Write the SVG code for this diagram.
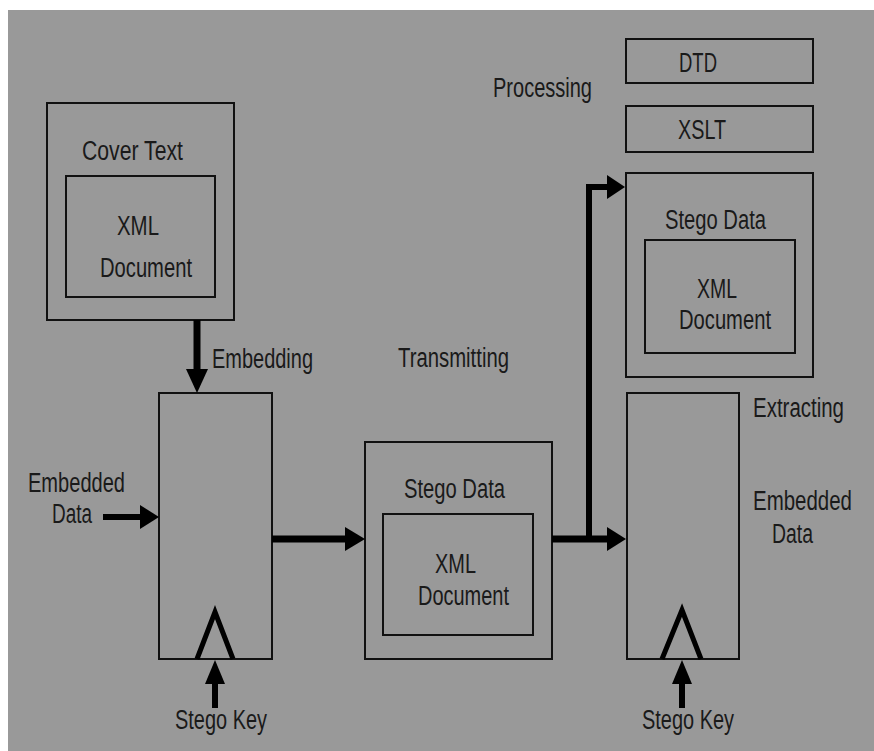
<svg xmlns="http://www.w3.org/2000/svg" width="874" height="751" viewBox="0 0 874 751">
<style>
.box{fill:none;stroke:#111;stroke-width:2}
.t{font-family:"Liberation Sans",Arial,sans-serif;font-size:27px;fill:#1a1a1a}
.sh{stroke:#000;fill:none}
.hd{fill:#000;stroke:none}
.key{fill:none;stroke:#000;stroke-width:5;stroke-linejoin:miter}
</style>
<rect x="0" y="0" width="874" height="751" fill="#ffffff"/>
<rect x="8" y="10" width="866" height="741" fill="#999999"/>

<g id="cover">
<rect class="box" x="47" y="103" width="187" height="217"/>
<rect class="box" x="66" y="176" width="149" height="121"/>
<text class="t" x="82" y="160" textLength="101" lengthAdjust="spacingAndGlyphs">Cover Text</text>
<text class="t" x="117" y="235" textLength="42" lengthAdjust="spacingAndGlyphs">XML</text>
<text class="t" x="100" y="277" textLength="92" lengthAdjust="spacingAndGlyphs">Document</text>
</g>

<g id="embed">
<rect class="box" x="159" y="393" width="113" height="266"/>
<polyline class="key" points="197,659 215,612 233,659"/>
</g>

<g id="stego-mid">
<rect class="box" x="365" y="442" width="187" height="217"/>
<rect class="box" x="383" y="514" width="150" height="121"/>
<text class="t" x="404" y="498" textLength="101" lengthAdjust="spacingAndGlyphs">Stego Data</text>
<text class="t" x="435" y="573" textLength="41" lengthAdjust="spacingAndGlyphs">XML</text>
<text class="t" x="418" y="605" textLength="91" lengthAdjust="spacingAndGlyphs">Document</text>
</g>

<g id="dtd">
<rect class="box" x="626" y="39" width="187" height="44"/>
<text class="t" x="679" y="72" textLength="38" lengthAdjust="spacingAndGlyphs">DTD</text>
</g>

<g id="xslt">
<rect class="box" x="626" y="106" width="187" height="46"/>
<text class="t" x="678" y="139" textLength="48" lengthAdjust="spacingAndGlyphs">XSLT</text>
</g>

<g id="stego-right">
<rect class="box" x="626" y="173" width="187" height="204"/>
<rect class="box" x="645" y="240" width="150" height="113"/>
<text class="t" x="665" y="229" textLength="101" lengthAdjust="spacingAndGlyphs">Stego Data</text>
<text class="t" x="697" y="298" textLength="40" lengthAdjust="spacingAndGlyphs">XML</text>
<text class="t" x="679" y="329" textLength="92" lengthAdjust="spacingAndGlyphs">Document</text>
</g>

<g id="extract">
<rect class="box" x="627" y="393" width="112" height="266"/>
<polyline class="key" points="662,659 682,610 701,659"/>
</g>

<g id="labels">
<text class="t" x="212" y="368" textLength="101" lengthAdjust="spacingAndGlyphs">Embedding</text>
<text class="t" x="28" y="492" textLength="97" lengthAdjust="spacingAndGlyphs">Embedded</text>
<text class="t" x="52" y="523" textLength="40" lengthAdjust="spacingAndGlyphs">Data</text>
<text class="t" x="175" y="729" textLength="92" lengthAdjust="spacingAndGlyphs">Stego Key</text>
<text class="t" x="398" y="367" textLength="111" lengthAdjust="spacingAndGlyphs">Transmitting</text>
<text class="t" x="493" y="97" textLength="99" lengthAdjust="spacingAndGlyphs">Processing</text>
<text class="t" x="753" y="417" textLength="91" lengthAdjust="spacingAndGlyphs">Extracting</text>
<text class="t" x="753" y="510" textLength="99" lengthAdjust="spacingAndGlyphs">Embedded</text>
<text class="t" x="772" y="543" textLength="41" lengthAdjust="spacingAndGlyphs">Data</text>
<text class="t" x="642" y="729" textLength="92" lengthAdjust="spacingAndGlyphs">Stego Key</text>
</g>

<g id="connectors">
<line class="sh" x1="197" y1="320" x2="197" y2="372" stroke-width="7"/>
<polygon class="hd" points="186,369 208,369 197,393"/>
<line class="sh" x1="103" y1="517" x2="142" y2="517" stroke-width="6"/>
<polygon class="hd" points="140,505 140,529 159,517"/>
<line class="sh" x1="272" y1="539" x2="347" y2="539" stroke-width="7"/>
<polygon class="hd" points="345,527 345,551 365,539"/>
<line class="sh" x1="552" y1="539" x2="609" y2="539" stroke-width="7"/>
<polygon class="hd" points="607,527 607,551 626,539"/>
<polyline class="sh" points="589,542 589,187 609,187" stroke-width="6"/>
<polygon class="hd" points="607,175 607,199 625,187"/>
<line class="sh" x1="215" y1="708" x2="215" y2="681" stroke-width="6"/>
<polygon class="hd" points="205,684 225,684 215,660"/>
<line class="sh" x1="682" y1="708" x2="682" y2="681" stroke-width="6"/>
<polygon class="hd" points="672,684 692,684 682,660"/>
</g>
</svg>
